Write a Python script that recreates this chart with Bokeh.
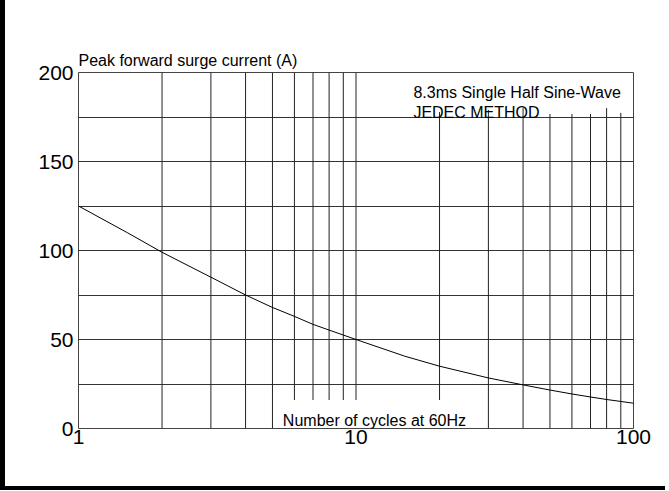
from bokeh.plotting import figure
from bokeh.models import FixedTicker, Label, Range1d, Title
from bokeh.embed import file_html
from bokeh.resources import INLINE

# ---- data ----
cycles = [1, 1.5, 2, 3, 4, 5, 6, 7, 8, 9, 10, 15, 20, 30, 40, 50, 60, 70, 80, 90, 100]
surge_current = [125, 110, 99, 85, 75, 68, 63, 58.5, 55.3, 52.5, 50, 40.6, 35, 28.4,
                 24.5, 21.6, 19.4, 17.7, 16.3, 15.2, 14.2]

x_ticks = [1, 10, 100]
x_tick_labels = ["1", "10", "100"]
y_ticks = [0, 50, 100, 150, 200]
y_grid = [25, 50, 75, 100, 125, 150, 175]

vgrid_x = [2, 3, 4, 5, 6, 7, 8, 9, 10, 20, 30, 40, 50, 60, 70, 80, 90]
vgrid_bottom = [0, 0, 0, 0, 16, 16, 16, 16, 16, 16, 0, 0, 0, 0, 0, 0, 0]
vgrid_top = [200, 200, 200, 200, 200, 200, 200, 200, 200,
             177.8, 179, 180, 176.7, 176.7, 176.7, 180, 177.3]

FONT = "Liberation Sans"

p = figure(width=660, height=486, x_axis_type="log",
           x_range=Range1d(1, 100), y_range=Range1d(0, 200),
           output_backend="svg", toolbar_location=None,
           min_border_left=73, min_border_right=37,
           min_border_top=72, min_border_bottom=62)
p.styles = {"box-sizing": "content-box",
            "border-left": "5px solid black",
            "border-bottom": "4px solid black"}

p.background_fill_color = "white"
p.border_fill_color = "white"
p.outline_line_color = "#444444"
p.outline_line_width = 1

p.title = Title(text="Peak forward surge current (A)", align="left",
                text_font=FONT, text_font_size="16px", text_font_style="normal",
                text_color="black", standoff=8, offset=0)

# axes
p.xaxis.ticker = FixedTicker(ticks=x_ticks)
p.xaxis.major_label_overrides = {t: s for t, s in zip(x_ticks, x_tick_labels)}
p.yaxis.ticker = FixedTicker(ticks=y_ticks)
for ax in (p.xaxis[0], p.yaxis[0]):
    ax.axis_line_color = None
    ax.major_tick_line_color = None
    ax.minor_tick_line_color = None
    ax.major_tick_out = 0
    ax.major_tick_in = 0
    ax.major_label_text_font = FONT
    ax.major_label_text_font_size = "21px"
    ax.major_label_text_color = "black"
p.xaxis.major_label_standoff = 1
p.yaxis.major_label_standoff = 5

# grid
p.xgrid.visible = False
p.ygrid.ticker = FixedTicker(ticks=y_grid)
p.ygrid.grid_line_color = "#333333"
p.ygrid.grid_line_width = 1

p.segment(x0=vgrid_x, y0=vgrid_bottom, x1=vgrid_x, y1=vgrid_top,
          line_color="#222222", line_width=1)

# curve
p.line(cycles, surge_current, line_color="black", line_width=1)

# texts
p.add_layout(Label(x=16.1, y=188.6, text="8.3ms Single Half Sine-Wave",
                   text_font=FONT, text_font_size="16px", text_color="black",
                   text_align="left", text_baseline="alphabetic"))
p.add_layout(Label(x=16.1, y=177.8, text="JEDEC METHOD",
                   text_font=FONT, text_font_size="16px", text_color="black",
                   text_align="left", text_baseline="alphabetic"))
p.add_layout(Label(x=5.45, y=4.5, text="Number of cycles at 60Hz",
                   text_font=FONT, text_font_size="16px", text_color="black",
                   text_align="left", text_baseline="alphabetic"))

open("out.html", "w").write(file_html(p, INLINE))
